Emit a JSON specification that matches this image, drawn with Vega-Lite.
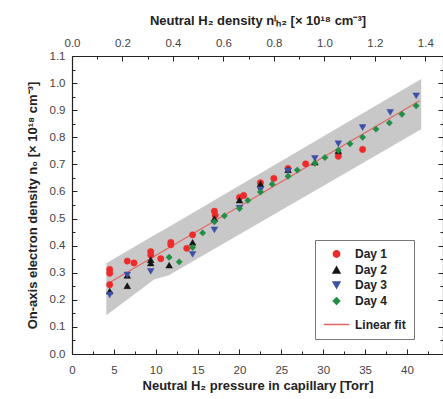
{
  "$schema": "https://vega.github.io/schema/vega-lite/v6.json",
  "width": 371,
  "height": 298,
  "autosize": {"type": "none"},
  "padding": {"left": 72, "top": 56, "right": 0, "bottom": 45},
  "background": "white",
  "config": {
    "view": {"stroke": null},
    "font": "Liberation Sans",
    "axis": {
      "labelFont": "Liberation Sans",
      "labelFontSize": 11.5,
      "labelColor": "#444",
      "labelOverlap": false,
      "labelFlush": false,
      "labelBound": false,
      "titleFont": "Liberation Sans",
      "titleFontSize": 13,
      "titleFontWeight": "bold",
      "titleColor": "#222",
      "domainColor": "#222",
      "domainWidth": 1.2,
      "tickColor": "#222",
      "tickWidth": 1,
      "grid": false
    },
    "legend": {
      "orient": "none",
      "legendX": 243,
      "legendY": 184,
      "strokeColor": "#777",
      "fillColor": "white",
      "padding": 8,
      "labelFont": "Liberation Sans",
      "labelFontSize": 12,
      "labelFontWeight": "bold",
      "labelColor": "#222",
      "labelOffset": 5,
      "rowPadding": 3,
      "symbolStrokeWidth": 1.5
    }
  },
  "datasets": {
    "band": [
      {"P": 4.1, "lo": 0.143, "hi": 0.335},
      {"P": 9.8, "lo": 0.275, "hi": 0.438},
      {"P": 11.5, "lo": 0.29, "hi": 0.468},
      {"P": 41.7, "lo": 0.83, "hi": 1.015}
    ],
    "fit": [
      {"P": 4.5, "n": 0.264, "series": "Linear fit"},
      {"P": 41.5, "n": 0.935, "series": "Linear fit"}
    ],
    "pts": [
      {"P": 4.5, "n": 0.312, "series": "Day 1"},
      {"P": 4.5, "n": 0.298, "series": "Day 1"},
      {"P": 4.5, "n": 0.256, "series": "Day 1"},
      {"P": 6.6, "n": 0.343, "series": "Day 1"},
      {"P": 7.4, "n": 0.336, "series": "Day 1"},
      {"P": 9.4, "n": 0.378, "series": "Day 1"},
      {"P": 9.4, "n": 0.365, "series": "Day 1"},
      {"P": 10.6, "n": 0.352, "series": "Day 1"},
      {"P": 11.8, "n": 0.412, "series": "Day 1"},
      {"P": 11.8, "n": 0.403, "series": "Day 1"},
      {"P": 13.7, "n": 0.39, "series": "Day 1"},
      {"P": 14.4, "n": 0.44, "series": "Day 1"},
      {"P": 17.0, "n": 0.527, "series": "Day 1"},
      {"P": 17.1, "n": 0.512, "series": "Day 1"},
      {"P": 20.0, "n": 0.578, "series": "Day 1"},
      {"P": 20.5, "n": 0.585, "series": "Day 1"},
      {"P": 22.5, "n": 0.632, "series": "Day 1"},
      {"P": 24.1, "n": 0.648, "series": "Day 1"},
      {"P": 25.8, "n": 0.685, "series": "Day 1"},
      {"P": 27.9, "n": 0.702, "series": "Day 1"},
      {"P": 31.8, "n": 0.73, "series": "Day 1"},
      {"P": 34.7, "n": 0.755, "series": "Day 1"},
      {"P": 4.5, "n": 0.232, "series": "Day 2"},
      {"P": 6.6, "n": 0.29, "series": "Day 2"},
      {"P": 6.6, "n": 0.252, "series": "Day 2"},
      {"P": 9.4, "n": 0.348, "series": "Day 2"},
      {"P": 9.4, "n": 0.336, "series": "Day 2"},
      {"P": 11.6, "n": 0.328, "series": "Day 2"},
      {"P": 14.4, "n": 0.412, "series": "Day 2"},
      {"P": 17.0, "n": 0.5, "series": "Day 2"},
      {"P": 20.0, "n": 0.568, "series": "Day 2"},
      {"P": 22.5, "n": 0.628, "series": "Day 2"},
      {"P": 25.8, "n": 0.68, "series": "Day 2"},
      {"P": 29.0, "n": 0.708, "series": "Day 2"},
      {"P": 31.8, "n": 0.75, "series": "Day 2"},
      {"P": 4.5, "n": 0.218, "series": "Day 3"},
      {"P": 6.6, "n": 0.292, "series": "Day 3"},
      {"P": 9.4, "n": 0.305, "series": "Day 3"},
      {"P": 14.4, "n": 0.368, "series": "Day 3"},
      {"P": 17.0, "n": 0.458, "series": "Day 3"},
      {"P": 20.0, "n": 0.538, "series": "Day 3"},
      {"P": 22.5, "n": 0.605, "series": "Day 3"},
      {"P": 25.8, "n": 0.676, "series": "Day 3"},
      {"P": 29.0, "n": 0.722, "series": "Day 3"},
      {"P": 31.8, "n": 0.776, "series": "Day 3"},
      {"P": 34.7, "n": 0.836, "series": "Day 3"},
      {"P": 38.0, "n": 0.892, "series": "Day 3"},
      {"P": 41.1, "n": 0.953, "series": "Day 3"},
      {"P": 11.6, "n": 0.357, "series": "Day 4"},
      {"P": 12.8, "n": 0.34, "series": "Day 4"},
      {"P": 14.4, "n": 0.393, "series": "Day 4"},
      {"P": 15.6, "n": 0.447, "series": "Day 4"},
      {"P": 17.0, "n": 0.488, "series": "Day 4"},
      {"P": 18.2, "n": 0.51, "series": "Day 4"},
      {"P": 20.0, "n": 0.537, "series": "Day 4"},
      {"P": 21.0, "n": 0.567, "series": "Day 4"},
      {"P": 22.5, "n": 0.598, "series": "Day 4"},
      {"P": 23.9, "n": 0.627, "series": "Day 4"},
      {"P": 25.8, "n": 0.656, "series": "Day 4"},
      {"P": 26.9, "n": 0.679, "series": "Day 4"},
      {"P": 29.0, "n": 0.704, "series": "Day 4"},
      {"P": 30.2, "n": 0.725, "series": "Day 4"},
      {"P": 31.8, "n": 0.752, "series": "Day 4"},
      {"P": 33.2, "n": 0.776, "series": "Day 4"},
      {"P": 34.7, "n": 0.8, "series": "Day 4"},
      {"P": 36.3, "n": 0.83, "series": "Day 4"},
      {"P": 37.9, "n": 0.853, "series": "Day 4"},
      {"P": 39.4, "n": 0.885, "series": "Day 4"},
      {"P": 41.1, "n": 0.916, "series": "Day 4"}
    ],
    "top": [{"dens": 0, "P": 0, "n": 0}]
  },
  "layer": [
    {
      "layer": [
        {
          "data": {"name": "band"},
          "mark": {"type": "area", "color": "#c8c8c8"},
          "encoding": {
            "x": {
              "field": "P", "type": "quantitative",
              "scale": {"domain": [0, 44.3], "nice": false, "zero": false},
              "axis": {
                "title": "Neutral H₂ pressure in capillary [Torr]",
                "values": [0, 5, 10, 15, 20, 25, 30, 35, 40],
                "format": "d",
                "labelOverlap": false,
                "tickSize": -5,
                "labelPadding": 15,
                "titlePadding": 4
              }
            },
            "y": {
              "field": "hi", "type": "quantitative",
              "scale": {"domain": [0, 1.1], "nice": false},
              "axis": {
                "title": "On-axis electron density n₀ [× 10¹⁸ cm⁻³]",
                "values": [0, 0.2, 0.4, 0.6, 0.8, 1.0],
                "format": ".1f",
                "labelOverlap": false,
                "tickSize": -5,
                "labelPadding": 12,
                "titlePadding": 10
              }
            },
            "y2": {"field": "lo"}
          }
        },
        {
          "data": {"name": "fit"},
          "mark": {"type": "line", "strokeWidth": 1.2},
          "encoding": {
            "x": {"field": "P", "type": "quantitative"},
            "y": {"field": "n", "type": "quantitative"},
            "stroke": {
              "field": "series", "type": "nominal",
              "scale": {"domain": ["Day 1", "Day 2", "Day 3", "Day 4", "Linear fit"], "range": ["#ee2a2a", "#151515", "#3d4fa8", "#1f8f45", "#e06666"]},
              "legend": {"title": null}
            }
          }
        },
        {
          "data": {"name": "pts"},
          "mark": {"type": "point", "filled": true, "strokeWidth": 0.5, "opacity": 1},
          "encoding": {
            "x": {"field": "P", "type": "quantitative"},
            "y": {"field": "n", "type": "quantitative"},
            "fill": {
              "field": "series", "type": "nominal",
              "scale": {"domain": ["Day 1", "Day 2", "Day 3", "Day 4", "Linear fit"], "range": ["#ee2a2a", "#151515", "#3d4fa8", "#1f8f45", "#e06666"]},
              "legend": {"title": null}
            },
            "stroke": {"field": "series", "type": "nominal", "legend": {"title": null}},
            "shape": {
              "field": "series", "type": "nominal",
              "scale": {"domain": ["Day 1", "Day 2", "Day 3", "Day 4", "Linear fit"], "range": ["circle", "triangle-up", "triangle-down", "diamond", "stroke"]},
              "legend": {"title": null}
            },
            "size": {
              "field": "series", "type": "nominal",
              "scale": {"type": "ordinal", "domain": ["Day 1", "Day 2", "Day 3", "Day 4", "Linear fit"], "range": [40, 45, 45, 40, 650]},
              "legend": {"title": null}
            }
          }
        }
      ]
    },
    {
      "data": {"name": "top"},
      "mark": {"type": "point", "opacity": 0},
      "encoding": {
        "x": {
          "field": "dens", "type": "quantitative",
          "scale": {"domain": [0, 1.47], "nice": false},
          "axis": {
            "orient": "top",
            "title": "Neutral H₂ density nⁱₕ₂ [× 10¹⁸ cm⁻³]",
            "values": [0, 0.1, 0.2, 0.3, 0.4, 0.5, 0.6, 0.7, 0.8, 0.9, 1.0, 1.1, 1.2, 1.3, 1.4],
            "labelExpr": "round(datum.value * 10) % 2 === 0 ? format(datum.value, '.1f') : ''",
            "labelOverlap": false,
            "tickSize": {"condition": {"test": "round(datum.value * 10) % 2 === 0", "value": -5}, "value": -3},
            "labelPadding": 13,
            "titlePadding": 8
          }
        },
        "y": {
          "field": "n", "type": "quantitative",
          "scale": {"domain": [0, 1.1], "nice": false},
          "axis": {
            "orient": "right",
            "title": null,
            "labels": false,
            "values": [0, 0.05, 0.1, 0.15, 0.2, 0.25, 0.3, 0.35, 0.4, 0.45, 0.5, 0.55, 0.6, 0.65, 0.7, 0.75, 0.8, 0.85, 0.9, 0.95, 1.0, 1.05, 1.1],
            "tickSize": {"condition": {"test": "round(datum.value * 100) % 10 === 0", "value": -5}, "value": -3}
          }
        }
      }
    },
    {
      "data": {"name": "top"},
      "mark": {"type": "point", "opacity": 0},
      "encoding": {
        "x": {
          "field": "P", "type": "quantitative",
          "scale": {"domain": [0, 44.3], "nice": false},
          "axis": {
            "orient": "bottom",
            "title": null,
            "labels": false,
            "domain": false,
            "offset": 0,
            "values": [2.5, 7.5, 12.5, 17.5, 22.5, 27.5, 32.5, 37.5, 42.5],
            "tickSize": -3
          }
        },
        "y": {
          "field": "n", "type": "quantitative",
          "scale": {"domain": [0, 1.1], "nice": false},
          "axis": {
            "orient": "left",
            "title": null,
            "domain": false,
            "offset": 0,
            "values": [0.1, 0.3, 0.5, 0.7, 0.9, 1.1],
            "format": ".1f",
            "labelOverlap": false,
            "tickSize": -5,
            "labelPadding": 12
          }
        }
      }
    },
    {
      "data": {"name": "top"},
      "mark": {"type": "point", "opacity": 0},
      "encoding": {
        "y": {
          "field": "n", "type": "quantitative",
          "scale": {"domain": [0, 1.1], "nice": false},
          "axis": {
            "orient": "left",
            "title": null,
            "labels": false,
            "domain": false,
            "offset": 0,
            "values": [0.05, 0.15, 0.25, 0.35, 0.45, 0.55, 0.65, 0.75, 0.85, 0.95, 1.05],
            "tickSize": -3
          }
        }
      }
    }
  ],
  "resolve": {"scale": {"x": "independent", "y": "independent"}}
}
